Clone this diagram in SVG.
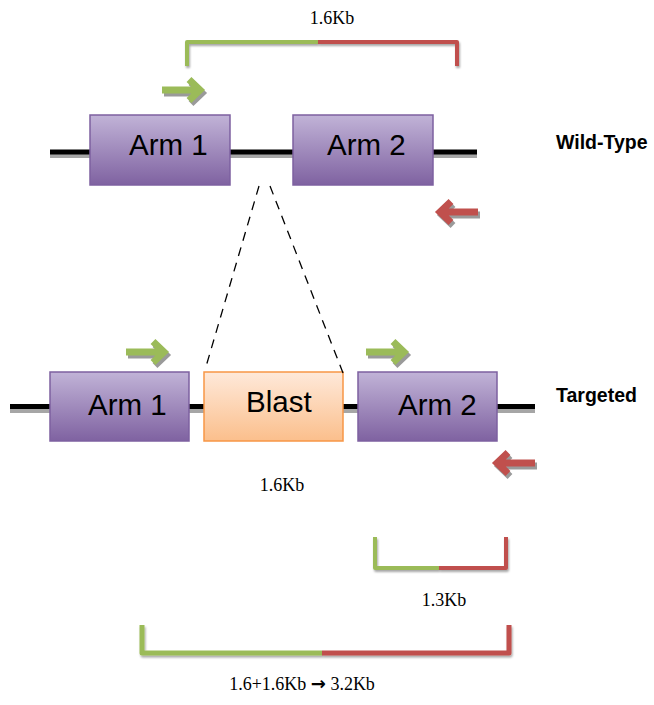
<svg xmlns="http://www.w3.org/2000/svg" xmlns:xlink="http://www.w3.org/1999/xlink" width="654" height="705" viewBox="0 0 654 705">
  <style>
    .arm { fill: url(#purple); stroke: #7d60a0; stroke-width: 1.5; }
    .blast { fill: url(#orange); stroke: #f79646; stroke-width: 1.5; }
    .box-label { font-family: "Liberation Sans", Arial, sans-serif; font-size: 29.5px; fill: #000; }
    .side-label { font-family: "Liberation Sans", Arial, sans-serif; font-size: 19.5px; font-weight: bold; fill: #000; }
    .size-label { font-family: "Liberation Serif", "Times New Roman", serif; font-size: 18px; fill: #000; text-anchor: middle; }
    .dna { stroke: #000; stroke-width: 5; fill: none; }
    .dna-shadow { stroke: #a6a6a6; stroke-width: 4; fill: none; }
    .dash { stroke: #000; stroke-width: 1.3; stroke-dasharray: 9 7; fill: none; }
    .green { stroke: #9bbb59; }
    .red { stroke: #c0504d; }
    .ashadow { stroke: #9a9a9a; }
    .arrow { fill: none; stroke-width: 7; stroke-linejoin: miter; stroke-linecap: butt; }
    .br { fill: none; stroke-width: 4; stroke-linejoin: round; stroke-linecap: butt; filter: url(#soft); }
  </style>
  <defs>
    <linearGradient id="purple" x1="0" y1="0" x2="0" y2="1">
      <stop offset="0" stop-color="#c1b3d7"/>
      <stop offset="1" stop-color="#7f62a1"/>
    </linearGradient>
    <linearGradient id="orange" x1="0" y1="0" x2="0" y2="1">
      <stop offset="0" stop-color="#fee9da"/>
      <stop offset="1" stop-color="#fbbf8c"/>
    </linearGradient>
    <filter id="soft" x="-10%" y="-30%" width="120%" height="160%">
      <feGaussianBlur in="SourceAlpha" stdDeviation="1.2"/>
      <feOffset dx="1" dy="1.5" result="b"/>
      <feComponentTransfer><feFuncA type="linear" slope="0.35"/></feComponentTransfer>
      <feMerge><feMergeNode/><feMergeNode in="SourceGraphic"/></feMerge>
    </filter>
    <path id="arr" d="M0,0 H36 M27,-10.5 L38,0 L27,10.5"/>
  </defs>

  <!-- Wild-type DNA line -->
  <g id="wt-line">
    <line class="dna-shadow" x1="50" y1="156" x2="477" y2="156"/>
    <line class="dna" x1="50" y1="152" x2="477" y2="152"/>
  </g>
  <!-- Targeted DNA line -->
  <g id="tg-line">
    <line class="dna-shadow" x1="10" y1="411" x2="535" y2="411"/>
    <line class="dna" x1="10" y1="406.5" x2="535" y2="406.5"/>
  </g>

  <!-- Nodes -->
  <g id="wt-arm1">
    <rect class="arm" x="90" y="115" width="140" height="70"/>
    <text class="box-label" x="129" y="155">Arm 1</text>
  </g>
  <g id="wt-arm2">
    <rect class="arm" x="293" y="115" width="140" height="70"/>
    <text class="box-label" x="327" y="155">Arm 2</text>
  </g>
  <g id="tg-arm1">
    <rect class="arm" x="50" y="372" width="139" height="69"/>
    <text class="box-label" x="88" y="415">Arm 1</text>
  </g>
  <g id="tg-blast">
    <rect class="blast" x="204" y="372" width="139" height="69"/>
    <text class="box-label" x="246" y="412">Blast</text>
  </g>
  <g id="tg-arm2">
    <rect class="arm" x="358" y="372" width="139" height="69"/>
    <text class="box-label" x="398" y="415">Arm 2</text>
  </g>

  <g id="label-wt">
    <text class="side-label" x="556" y="149">Wild-Type</text>
  </g>
  <g id="label-tg">
    <text class="side-label" x="556" y="402">Targeted</text>
  </g>

  <!-- Connectors -->
  <g id="connectors">
    <line class="dash" x1="259" y1="186" x2="205" y2="370"/>
    <line class="dash" x1="270" y1="186" x2="343" y2="373"/>
  </g>

  <!-- Primer arrows -->
  <g id="primer-wt-fwd">
    <use href="#arr" class="arrow ashadow" transform="translate(164,93)"/>
    <use href="#arr" class="arrow green" transform="translate(162,90)"/>
  </g>
  <g id="primer-wt-rev">
    <use href="#arr" class="arrow ashadow" transform="translate(480,215) scale(-1,1)"/>
    <use href="#arr" class="arrow red" transform="translate(478,212) scale(-1,1)"/>
  </g>
  <g id="primer-tg-fwd1">
    <use href="#arr" class="arrow ashadow" transform="translate(128,355)"/>
    <use href="#arr" class="arrow green" transform="translate(126,352)"/>
  </g>
  <g id="primer-tg-fwd2">
    <use href="#arr" class="arrow ashadow" transform="translate(368,355)"/>
    <use href="#arr" class="arrow green" transform="translate(366,352)"/>
  </g>
  <g id="primer-tg-rev">
    <use href="#arr" class="arrow ashadow" transform="translate(537,466) scale(-1,1)"/>
    <use href="#arr" class="arrow red" transform="translate(535,463) scale(-1,1)"/>
  </g>

  <!-- Product brackets -->
  <g id="bracket-wt">
    <path class="br green" d="M187,66 V42 H318"/>
    <path class="br red" d="M318,42 H457 V66"/>
    <text class="size-label" x="332" y="24">1.6Kb</text>
  </g>
  <g id="label-mid">
    <text class="size-label" x="282" y="491">1.6Kb</text>
  </g>
  <g id="bracket-small">
    <path class="br green" d="M375,537 V568 H439"/>
    <path class="br red" d="M439,568 H506 V537"/>
    <text class="size-label" x="444" y="606">1.3Kb</text>
  </g>
  <g id="bracket-large">
    <path class="br green" style="stroke-width:5" d="M142,625 V653 H322"/>
    <path class="br red" style="stroke-width:5" d="M322,653 H509 V625"/>
    <text class="size-label" x="302" y="690">1.6+1.6Kb <tspan font-family="DejaVu Sans, sans-serif" font-weight="bold" font-size="18">→</tspan> 3.2Kb</text>
  </g>
</svg>
